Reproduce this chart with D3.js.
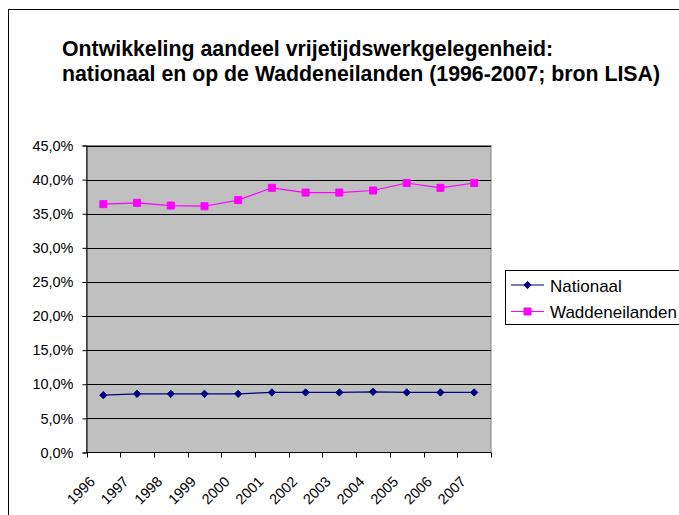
<!DOCTYPE html>
<html>
<head>
<meta charset="utf-8">
<script src="https://cdn.jsdelivr.net/npm/d3@7"></script>
<style>
  body { margin: 0; background: #fff; }
  text { font-family: "Liberation Sans", Arial, sans-serif; }
</style>
</head>
<body>
<div id="chart"></div>
<script>
// chart data
const years = ["1996", "1997", "1998", "1999", "2000", "2001", "2002", "2003", "2004", "2005", "2006", "2007"];
const nationaal = [8.4, 8.6, 8.6, 8.6, 8.6, 8.8, 8.8, 8.8, 8.9, 8.8, 8.8, 8.8];
const waddeneilanden = [36.4, 36.6, 36.2, 36.1, 37.0, 38.8, 38.1, 38.1, 38.4, 39.5, 38.8, 39.5];
const yTicks = [0, 5, 10, 15, 20, 25, 30, 35, 40, 45];
const titleLines = ["Ontwikkeling aandeel vrijetijdswerkgelegenheid:", "nationaal en op de Waddeneilanden (1996-2007; bron LISA)"];

const W = 679, H = 515;
const svg = d3.select("#chart").append("svg")
    .attr("width", W)
    .attr("height", H);

// outer chart border (runs off the right / bottom edge)
svg.append("rect")
    .attr("x", 8.5).attr("y", 9.5)
    .attr("width", 720).attr("height", 600)
    .attr("fill", "#fff")
    .attr("stroke", "#000");

// title
svg.append("g").selectAll("text")
    .data(titleLines)
    .enter().append("text")
    .attr("x", 62)
    .attr("y", (d, i) => 56 + i * 25)
    .attr("font-size", "21.3px")
    .attr("font-weight", "bold")
    .text(d => d);

// plot area
const plot = { left: 86.5, right: 491, top: 145.5, bottom: 452.5 };

const x = d3.scaleBand()
    .domain(years)
    .range([plot.left, plot.right]);

const y = d3.scaleLinear()
    .domain([0, 45])
    .range([plot.bottom, plot.top]);

svg.append("rect")
    .attr("x", plot.left).attr("y", plot.top)
    .attr("width", plot.right - plot.left)
    .attr("height", plot.bottom - plot.top)
    .attr("fill", "#c0c0c0")
    .attr("stroke", "#808080");

// gridlines
svg.append("g").selectAll("line")
    .data(yTicks.filter(t => t > 0))
    .enter().append("line")
    .attr("x1", plot.left).attr("x2", plot.right)
    .attr("y1", d => Math.round(y(d)) + 0.5)
    .attr("y2", d => Math.round(y(d)) + 0.5)
    .attr("stroke", "#000");

// y axis
const yAxis = svg.append("g")
    .attr("transform", `translate(${plot.left},0)`)
    .call(d3.axisLeft(y)
        .tickValues(yTicks)
        .tickSize(4)
        .tickPadding(9)
        .tickFormat(d => d.toFixed(1).replace(".", ",") + "%"));
yAxis.select(".domain").attr("stroke", "#000");
yAxis.selectAll("text")
    .attr("font-size", "14.5px")
    .attr("font-family", "Liberation Sans, Arial, sans-serif")
    .attr("fill", "#000");

// x axis: ticks sit at the category boundaries
const xAxis = svg.append("g")
    .attr("transform", `translate(0,${plot.bottom})`);
xAxis.append("line")
    .attr("x1", plot.left).attr("x2", plot.right)
    .attr("stroke", "#000");
xAxis.selectAll(".tick")
    .data(years.concat(["end"]))
    .enter().append("line")
    .attr("x1", (d, i) => Math.round(plot.left + i * x.bandwidth()) + 0.5)
    .attr("x2", (d, i) => Math.round(plot.left + i * x.bandwidth()) + 0.5)
    .attr("y1", 0).attr("y2", 5)
    .attr("stroke", "#000");
xAxis.selectAll(".lbl")
    .data(years)
    .enter().append("text")
    .attr("class", "lbl")
    .attr("transform", d => `translate(${x(d) + x.bandwidth() / 2 - 7.5},${30}) rotate(-45)`)
    .attr("text-anchor", "end")
    .attr("font-size", "14.5px")
    .attr("fill", "#000")
    .text(d => d);

// series
const series = [
    { name: "Nationaal", values: nationaal, color: "#000080", symbol: d3.symbolDiamond2, size: 34 },
    { name: "Waddeneilanden", values: waddeneilanden, color: "#ff00ff", symbol: d3.symbolSquare, size: 49 }
];

const line = d3.line()
    .x((d, i) => x(years[i]) + x.bandwidth() / 2)
    .y(d => y(d));

series.forEach(s => {
    svg.append("path")
        .datum(s.values)
        .attr("fill", "none")
        .attr("stroke", s.color)
        .attr("stroke-width", 1.2)
        .attr("d", line);

    svg.append("g").selectAll("path")
        .data(s.values)
        .enter().append("path")
        .attr("transform", (d, i) => `translate(${x(years[i]) + x.bandwidth() / 2},${y(d)})`)
        .attr("d", d3.symbol().type(s.symbol).size(s.size))
        .attr("fill", s.color)
        .attr("stroke", s.color);
});

// legend
const legend = svg.append("g");
legend.append("rect")
    .attr("x", 505.5).attr("y", 270.5)
    .attr("width", 200).attr("height", 54)
    .attr("fill", "#fff")
    .attr("stroke", "#000");

series.forEach((s, i) => {
    const ly = 285 + i * 26.5;
    legend.append("line")
        .attr("x1", 511).attr("x2", 544)
        .attr("y1", ly).attr("y2", ly)
        .attr("stroke", s.color)
        .attr("stroke-width", 1.2);
    legend.append("path")
        .attr("transform", `translate(527.5,${ly})`)
        .attr("d", d3.symbol().type(s.symbol).size(s.size))
        .attr("fill", s.color)
        .attr("stroke", s.color);
    legend.append("text")
        .attr("x", 550).attr("y", ly + 6.5)
        .attr("font-size", "17px")
        .text(s.name);
});
</script>
</body>
</html>
